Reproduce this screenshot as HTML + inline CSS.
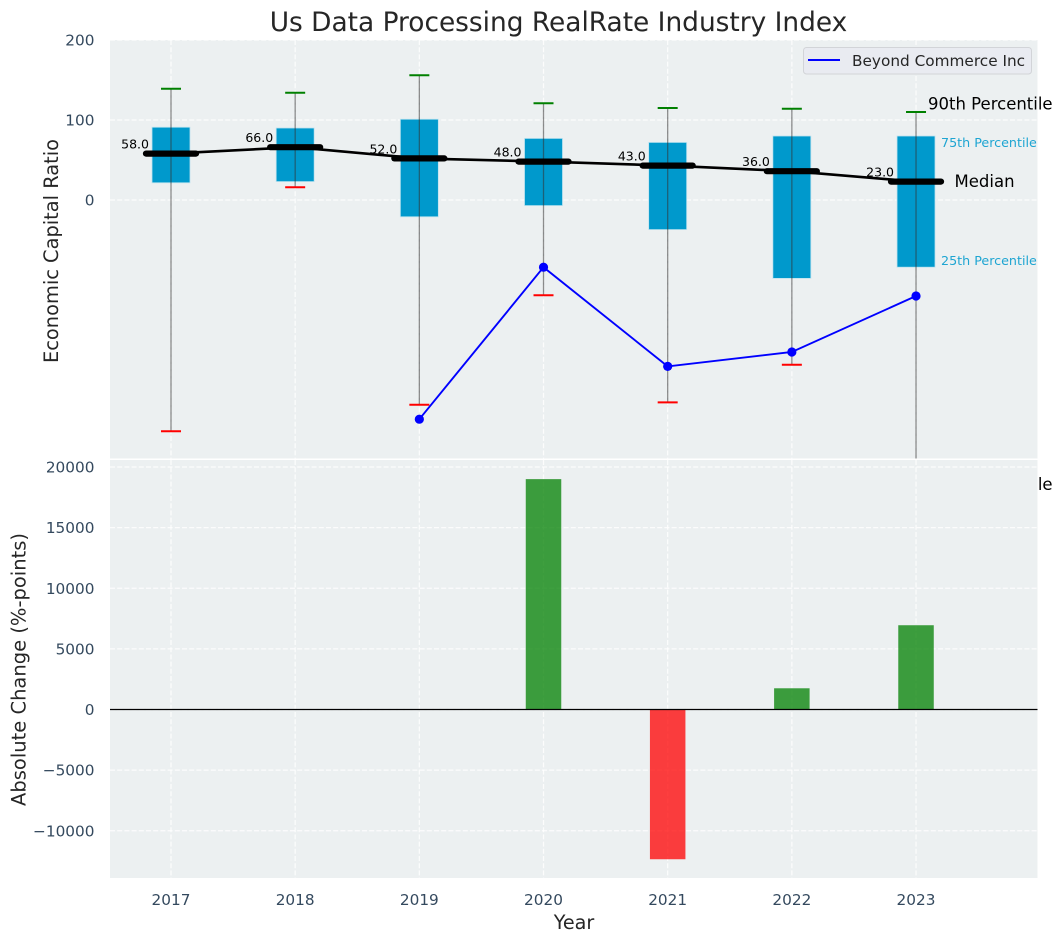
<!DOCTYPE html>
<html>
<head>
<meta charset="utf-8">
<style>
html,body{margin:0;padding:0;background:#fff;}
svg{display:block;font-family:"DejaVu Sans","Liberation Sans",sans-serif;}
</style>
</head>
<body>
<svg id="chart" xmlns="http://www.w3.org/2000/svg" width="1063" height="942" viewBox="0 0 1063 942"></svg>
<script>
const years = [2017, 2018, 2019, 2020, 2021, 2022, 2023];
const p90 = [139, 134, 156, 121, 115, 114, 110];
const p75 = [91, 90, 101, 77, 72, 80, 80];
const medians = [58, 66, 52, 48, 43, 36, 23];
const p25 = [21.5, 23, -21, -7, -37, -98, -84];
const p10 = [-289, 16, -256, -119, -253, -206, -500];
const companyValues = [null, null, -274, -84, -208, -190, -120];
const changes = [0, 0, 0, 19000, -12350, 1750, 6950];
const topTicks = [200, 100, 0];
const bottomTicks = [20000, 15000, 10000, 5000, 0, -5000, -10000];

const svg = document.getElementById('chart');
const NS = 'http://www.w3.org/2000/svg';
const left = 110, right = 1037.5;
const topY0 = 40, topY1 = 458.5, botY0 = 460, botY1 = 878;

function xPos(year) { return 171 + (year - 2017) * 124.17; }
function yTop(v) { return 200 - 0.8 * v; }
function yBot(v) { return 709.5 - v * 0.012125; }

function add(parent, tag, attrs, text) {
  const el = document.createElementNS(NS, tag);
  for (const k in attrs) el.setAttribute(k, attrs[k]);
  if (text !== undefined) el.textContent = text;
  parent.appendChild(el);
  return el;
}

const defs = add(svg, 'defs', {});
const clipTop = add(defs, 'clipPath', { id: 'clip-top' });
add(clipTop, 'rect', { x: left, y: topY0, width: right - left, height: topY1 - topY0 });
const clipBot = add(defs, 'clipPath', { id: 'clip-bot' });
add(clipBot, 'rect', { x: left, y: botY0, width: right - left, height: botY1 - botY0 });

/* title */
const title = add(svg, 'text', { x: 558.5, y: 31, 'font-size': 26.4, 'text-anchor': 'middle', fill: '#262626' }, 'Us Data Processing RealRate Industry Index');



/* top panel */
const topBg = add(svg, 'rect', { x: left, y: topY0, width: right - left, height: topY1 - topY0, fill: '#ecf0f1' });



const gridStyle = { stroke: '#ffffff', 'stroke-width': 1.2, 'stroke-dasharray': '5 2.2', opacity: 0.85 };

const topGrid = add(svg, 'g', {});


years.forEach(function (yr) {
  add(topGrid, 'line', Object.assign({ x1: xPos(yr), x2: xPos(yr), y1: topY0, y2: topY1 }, gridStyle));
});
topTicks.forEach(function (t) {
  add(topGrid, 'line', Object.assign({ x1: left, x2: right, y1: yTop(t), y2: yTop(t) }, gridStyle));
  const lab = add(svg, 'text', { x: 94.5, y: yTop(t) + 5.5, 'font-size': 15.3, 'text-anchor': 'end', fill: '#34495e' }, String(t));
  
  
});

const plotTop = add(svg, 'g', { 'clip-path': 'url(#clip-top)' });



/* boxes */
years.forEach(function (yr, i) {
  const box = add(plotTop, 'rect', {
    x: xPos(yr) - 19, y: yTop(p75[i]), width: 38, height: yTop(p25[i]) - yTop(p75[i]),
    fill: '#0099cc', stroke: '#bfe3ef', 'stroke-width': 0.8
  });
  
  
});

/* whiskers */
years.forEach(function (yr, i) {
  const w = add(plotTop, 'line', {
    x1: xPos(yr), x2: xPos(yr), y1: yTop(p90[i]), y2: yTop(p10[i]),
    stroke: '#333333', 'stroke-width': 1.3, opacity: 0.55
  });
  
  
  const capHi = add(plotTop, 'line', {
    x1: xPos(yr) - 10, x2: xPos(yr) + 10, y1: yTop(p90[i]), y2: yTop(p90[i]),
    stroke: '#008000', 'stroke-width': 2
  });
  
  
  const capLo = add(plotTop, 'line', {
    x1: xPos(yr) - 10, x2: xPos(yr) + 10, y1: yTop(p10[i]), y2: yTop(p10[i]),
    stroke: '#ff0000', 'stroke-width': 2
  });
  
  
});

/* median line */
const medianLine = add(plotTop, 'polyline', {
  points: years.map(function (yr, i) { return xPos(yr) + ',' + yTop(medians[i]); }).join(' '),
  fill: 'none', stroke: '#000000', 'stroke-width': 2.6
});



years.forEach(function (yr, i) {
  const m = add(plotTop, 'line', {
    x1: xPos(yr) - 25, x2: xPos(yr) + 25, y1: yTop(medians[i]), y2: yTop(medians[i]),
    stroke: '#000000', 'stroke-width': 6.2, 'stroke-linecap': 'round'
  });
  
  
  const t = add(svg, 'text', {
    x: xPos(yr) - 22, y: yTop(medians[i]) - 5, 'font-size': 12.5, 'text-anchor': 'end', fill: '#000000'
  }, medians[i].toFixed(1));
  
  
});

/* company series */
const pts = [];
years.forEach(function (yr, i) {
  if (companyValues[i] !== null) pts.push([xPos(yr), yTop(companyValues[i])]);
});
const compLine = add(plotTop, 'polyline', {
  points: pts.map(function (p) { return p.join(','); }).join(' '),
  fill: 'none', stroke: '#0000ff', 'stroke-width': 1.9
});


pts.forEach(function (p) {
  const c = add(plotTop, 'circle', { cx: p[0], cy: p[1], r: 4.6, fill: '#0000ff' });
  
  
});

/* percentile annotations */
const lastIdx = years.length - 1;
const lastX = xPos(years[lastIdx]);
const a90 = add(svg, 'text', { x: lastX + 12, y: 109.5, 'font-size': 16.5, fill: '#000000' }, '90th Percentile');


const a10 = add(svg, 'text', { x: lastX + 12, y: 490, 'font-size': 16.5, fill: '#000000' }, '10th Percentile');


const a75 = add(svg, 'text', { x: lastX + 25, y: 147, 'font-size': 12.7, fill: '#1ea5d2' }, '75th Percentile');


const a25 = add(svg, 'text', { x: lastX + 25, y: 265, 'font-size': 12.7, fill: '#1ea5d2' }, '25th Percentile');


const aMed = add(svg, 'text', { x: lastX + 38.5, y: 187, 'font-size': 16.5, fill: '#000000' }, 'Median');



/* legend */
const legend = add(svg, 'g', {});


add(legend, 'rect', { x: 803.5, y: 47.5, width: 228, height: 26.5, rx: 3, fill: '#e9ebf1', stroke: '#d2d4d8', 'stroke-width': 1 });
add(legend, 'line', { x1: 808, x2: 840, y1: 60, y2: 60, stroke: '#0000ff', 'stroke-width': 1.9 });
const legText = add(legend, 'text', { x: 852, y: 66, 'font-size': 15.3, fill: '#262626' }, 'Beyond Commerce Inc');



/* bottom panel */
const botBg = add(svg, 'rect', { x: left, y: botY0, width: right - left, height: botY1 - botY0, fill: '#ecf0f1' });



const botGrid = add(svg, 'g', {});


years.forEach(function (yr) {
  add(botGrid, 'line', Object.assign({ x1: xPos(yr), x2: xPos(yr), y1: botY0, y2: botY1 }, gridStyle));
  const lab = add(svg, 'text', { x: xPos(yr), y: 905, 'font-size': 15.3, 'text-anchor': 'middle', fill: '#34495e' }, String(yr));
  
  
});
bottomTicks.forEach(function (t) {
  add(botGrid, 'line', Object.assign({ x1: left, x2: right, y1: yBot(t), y2: yBot(t) }, gridStyle));
  const lab = add(svg, 'text', { x: 94.5, y: yBot(t) + 5.5, 'font-size': 15.3, 'text-anchor': 'end', fill: '#34495e' }, String(t).replace('-', '\u2212'));
  
  
});

const plotBot = add(svg, 'g', { 'clip-path': 'url(#clip-bot)' });


years.forEach(function (yr, i) {
  const v = changes[i];
  if (v === 0) return;
  const bar = add(plotBot, 'rect', {
    x: xPos(yr) - 17.75, width: 35.5,
    y: Math.min(yBot(v), yBot(0)), height: Math.abs(yBot(v) - yBot(0)),
    fill: v > 0 ? '#008000' : '#ff0000', opacity: 0.75
  });
  
  
});
const zero = add(plotBot, 'line', { x1: left, x2: right, y1: yBot(0), y2: yBot(0), stroke: '#000000', 'stroke-width': 1.2 });



/* axis titles */
const ylab1 = add(svg, 'text', { transform: 'translate(58,251) rotate(-90)', 'font-size': 19.4, 'text-anchor': 'middle', fill: '#262626' }, 'Economic Capital Ratio');


const ylab2 = add(svg, 'text', { transform: 'translate(25.5,669.5) rotate(-90)', 'font-size': 19.5, 'text-anchor': 'middle', fill: '#262626' }, 'Absolute Change (%-points)');


const xlab = add(svg, 'text', { x: 574, y: 929, 'font-size': 19.2, 'text-anchor': 'middle', fill: '#262626' }, 'Year');


</script>
</body>
</html>
